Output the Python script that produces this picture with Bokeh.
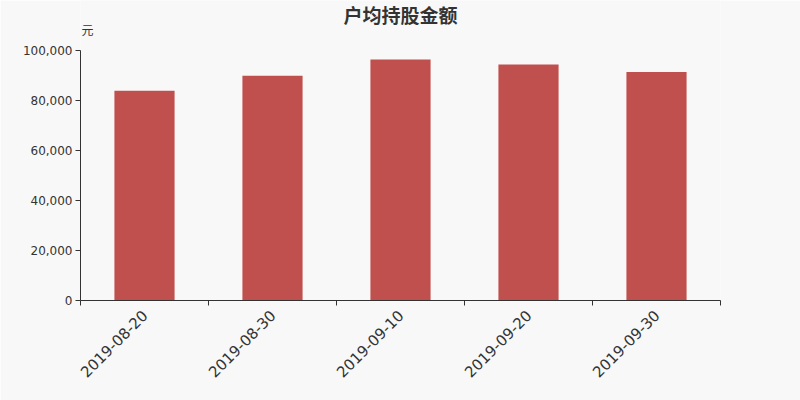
import math
from bokeh.plotting import figure
from bokeh.models import ColumnDataSource, FixedTicker, NumeralTickFormatter, Label, Range1d
from bokeh.embed import file_html
from bokeh.resources import INLINE

categories = ["2019-08-20", "2019-08-30", "2019-09-10", "2019-09-20", "2019-09-30"]
values = [83900, 89900, 96400, 94400, 91400]
y_ticks = [0, 20000, 40000, 60000, 80000, 100000]
title_text = "户均持股金额"
unit_text = "元"

CJK = "Noto Sans CJK SC"
NUM = "DejaVu Sans"
BG = "#f8f8f8"
TXT = "#333333"

xs = [i + 0.5 for i in range(len(categories))]
src = ColumnDataSource(dict(x=xs, top=values, cat=categories))

y_max = max(y_ticks)
# frame reaches to the page top; the axis stops at y_max
p = figure(width=800, height=400, output_backend="svg", toolbar_location=None,
           x_range=Range1d(0, len(categories)), y_range=Range1d(0, y_max * 1.2),
           min_border_left=80, min_border_right=80, min_border_top=0, min_border_bottom=100)
p.background_fill_color = BG
p.border_fill_color = BG
p.outline_line_color = None
p.grid.visible = False

p.vbar(x="x", top="top", width=0.47, bottom=0, source=src, fill_color="#c0504d", line_color=None)

xa = p.xaxis[0]
xa.ticker = FixedTicker(ticks=xs, minor_ticks=list(range(len(categories) + 1)))
xa.major_label_overrides = {x: c for x, c in zip(xs, categories)}
xa.major_tick_line_color = None
xa.minor_tick_line_color = TXT
xa.minor_tick_out = 5
xa.minor_tick_in = 0
xa.axis_line_color = TXT
xa.major_label_orientation = math.pi / 4
xa.major_label_text_font = NUM
xa.major_label_text_font_size = "15px"
xa.major_label_text_color = TXT
xa.major_label_standoff = 6

ya = p.yaxis[0]
ya.ticker = FixedTicker(ticks=y_ticks)
ya.bounds = (0, y_max)
ya.formatter = NumeralTickFormatter(format="0,0")
ya.axis_line_color = TXT
ya.major_tick_line_color = TXT
ya.major_tick_out = 5
ya.major_tick_in = 0
ya.minor_tick_line_color = None
ya.major_label_text_font = NUM
ya.major_label_text_font_size = "12px"
ya.major_label_text_color = TXT
ya.major_label_standoff = 3

top = y_max * 1.2
p.add_layout(Label(x=len(categories) / 2, y=top, y_offset=-13.5, text=title_text,
                   text_font=CJK, text_font_size="19px", text_font_style="bold",
                   text_color=TXT, text_align="center", text_baseline="middle"))
p.add_layout(Label(x=0, y=top, x_offset=1, y_offset=-29, text=unit_text,
                   text_font=CJK, text_font_size="12px",
                   text_color=TXT, text_align="left", text_baseline="middle"))

html = file_html(p, INLINE)
html = html.replace("<body>", '<body style="background:%s;margin:0">' % BG, 1)
open("out.html", "w").write(html)
